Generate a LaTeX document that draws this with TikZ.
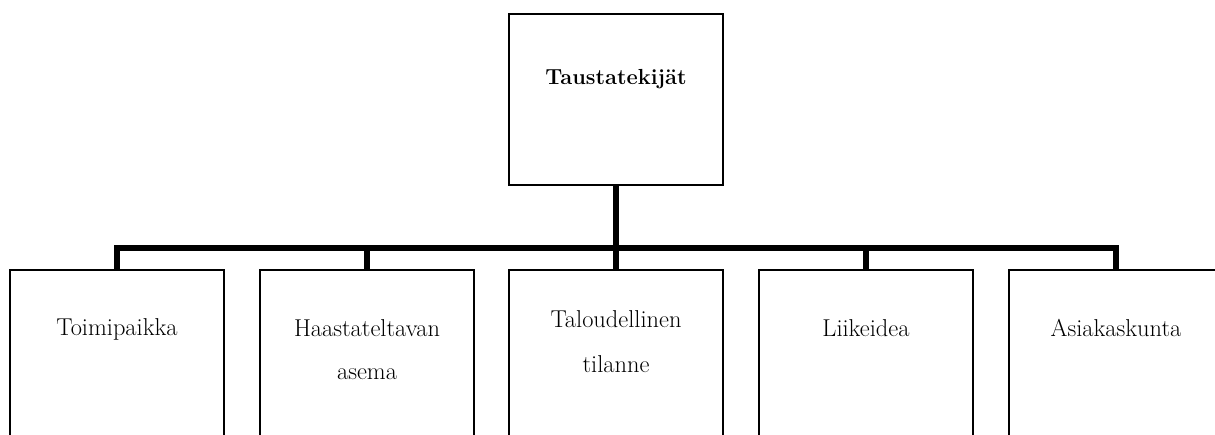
\documentclass[tikz,border=0pt]{standalone}
\begin{document}
\begin{tikzpicture}[x=1pt,y=-1pt,
  box/.style={draw=black,line width=1.6pt,minimum width=214pt,inner sep=0pt,fill=white},
  lbl/.style={font=\fontsize{24.4}{24.4}\selectfont,anchor=base,inner sep=0pt},
  conn/.style={line width=6.5pt,line join=miter}]
\useasboundingbox (0,0) rectangle (1215,435);
\clip (0,0) rectangle (1215,435);
% top box
\node[box,minimum height=171pt] (top) at (616,99.5) {};
\node[lbl,font=\fontsize{21.8}{21.8}\selectfont\bfseries] (toplbl) at (616,85) {Taustatekijät};
% bottom boxes
\node[box,minimum height=200pt] (b1) at (117,370) {};
\node[box,minimum height=200pt] (b2) at (367,370) {};
\node[box,minimum height=200pt] (b3) at (616,370) {};
\node[box,minimum height=200pt] (b4) at (866,370) {};
\node[box,minimum height=200pt] (b5) at (1116,370) {};
\coordinate (bus) at (616,248);
% connectors
\draw[conn] (top.south) -- (bus);
\draw[conn] (b1.north) -- (b1.north |- bus) -- (b5.north |- bus) -- (b5.north);
\draw[conn] (b2.north |- bus) -- (b2.north);
\draw[conn] (bus) -- (b3.north);
\draw[conn] (b4.north |- bus) -- (b4.north);
% labels
\node[lbl] (l1) at (117,336) {Toimipaikka};
\node[lbl] (l2a) at (367,337) {Haastateltavan};
\node[lbl] (l2b) at (367,380) {asema};
\node[lbl] (l3a) at (616,328) {Taloudellinen};
\node[lbl] (l3b) at (616,372) {tilanne};
\node[lbl] (l4) at (866,337) {Liikeidea};
\node[lbl] (l5) at (1116,337) {Asiakaskunta};
\end{tikzpicture}
\end{document}
